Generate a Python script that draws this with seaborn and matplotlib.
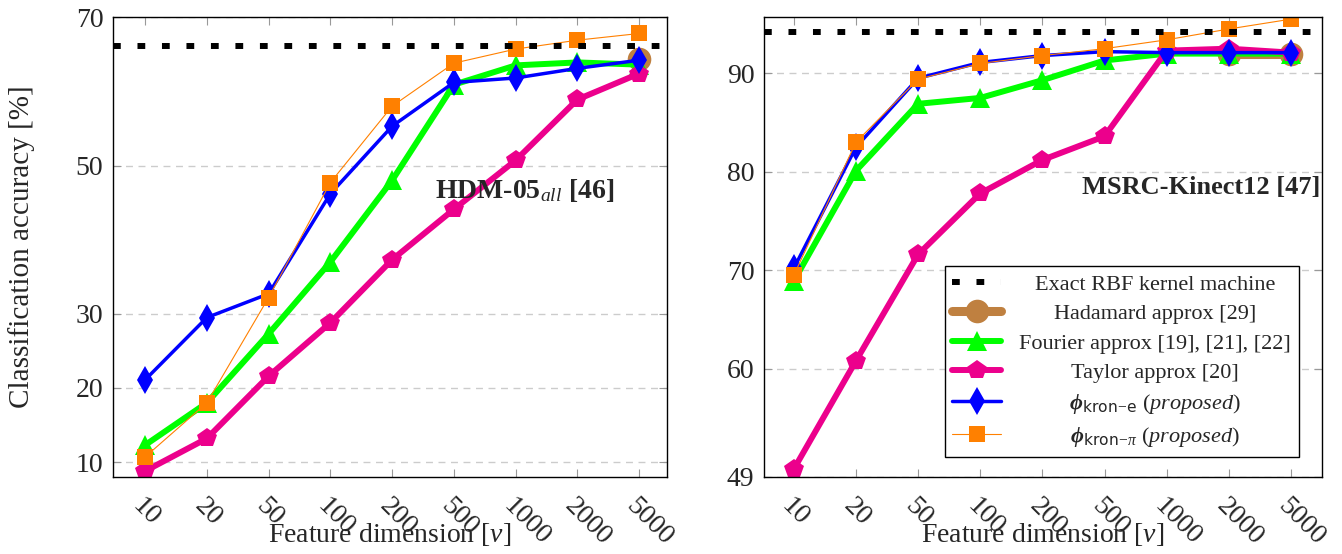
import numpy as np
import matplotlib.pyplot as plt
import seaborn as sns

dims = ['10', '20', '50', '100', '200', '500', '1000', '2000', '5000']

# HDM-05 (left panel)
hdm_exact = 66.1
hdm_hadamard = [64.3]  # only measured at 5000
hdm_fourier = [12.3, 18.0, 27.3, 37.0, 48.0, 60.9, 63.5, 63.9, 63.6]
hdm_taylor = [8.8, 13.2, 21.6, 28.8, 37.3, 44.1, 50.7, 58.9, 62.4]
hdm_kron_e = [21.1, 29.5, 32.7, 46.2, 55.3, 61.2, 61.8, 63.1, 64.2]
hdm_kron_pi = [10.7, 18.0, 32.2, 47.7, 58.0, 63.8, 65.7, 66.9, 67.8]

# MSRC-Kinect12 (right panel)
msrc_exact = 94.2
msrc_hadamard = [92.0, 92.0]  # measured at 2000 and 5000
msrc_fourier = [68.9, 80.1, 86.9, 87.5, 89.3, 91.3, 92.0, 92.0, 92.0]
msrc_taylor = [49.8, 60.8, 71.6, 77.8, 81.2, 83.6, 92.3, 92.5, 92.1]
msrc_kron_e = [70.2, 82.5, 89.5, 91.1, 91.8, 92.2, 92.1, 92.1, 92.1]
msrc_kron_pi = [69.5, 83.0, 89.4, 91.0, 91.8, 92.5, 93.4, 94.5, 95.5]

labels = ['Exact RBF kernel machine', 'Hadamard approx [29]',
          'Fourier approx [19], [21], [22]', 'Taylor approx [20]',
          r'$\boldsymbol{\phi}_{\mathsf{kron}\!-\!\mathsf{e}}$ $\mathit{(proposed)}$',
          r'$\boldsymbol{\phi}_{\mathsf{kron}\!-\!\pi}$ $\mathit{(proposed)}$']

sns.set_style('ticks')
plt.rcParams['font.family'] = ['Liberation Serif', 'DejaVu Serif']
plt.rcParams['mathtext.fontset'] = 'custom'
plt.rcParams['mathtext.rm'] = 'Liberation Serif'
plt.rcParams['mathtext.it'] = 'Liberation Serif:italic'
plt.rcParams['mathtext.bf'] = 'Liberation Serif:bold'
plt.rcParams['mathtext.bfit'] = 'Liberation Serif:italic:bold'
plt.rcParams['mathtext.sf'] = 'DejaVu Sans'

styles = [
    dict(color='#bf8040', marker='o', linewidth=6.5, markersize=17),
    dict(color='#00ff00', marker='^', linewidth=4.3, markersize=14),
    dict(color='#ec008c', marker='p', linewidth=4.3, markersize=15),
    dict(color='#0000ff', marker='d', linewidth=2.5, markersize=14),
    dict(color='#ff8000', marker='s', linewidth=0.8, markersize=12),
]

fig = plt.figure(figsize=(13.42, 5.54), dpi=100)
ax1 = fig.add_axes([0.0842, 0.139, 0.4128, 0.830])
ax2 = fig.add_axes([0.5693, 0.139, 0.4158, 0.830])

pos = np.arange(len(dims))


def panel(ax, exact, hadamard, series, ylim, yticks):
    ax.axhline(exact, color='black', linewidth=4.3, dashes=(1.3, 2.8),
               dash_capstyle='butt', label=labels[0], zorder=3)
    xs = [pos[-len(hadamard):]] + [pos] * 4
    ys = [hadamard] + series
    for x, y, st, lab in zip(xs, ys, styles, labels[1:]):
        sns.lineplot(x=x, y=y, ax=ax, estimator=None, label=lab,
                     markeredgewidth=0, **st)
    ax.set_xlim(-0.52, 8.45)
    ax.set_ylim(*ylim)
    ax.set_yticks(yticks)
    ax.set_xticks(pos)
    ax.set_xticklabels(dims, rotation=-45, ha='left', rotation_mode='anchor')
    ax.tick_params(direction='in', top=True, right=True, length=6,
                   color='#999999', labelsize=20, pad=7)
    ax.tick_params(axis='x', pad=12)
    ax.yaxis.grid(True, linestyle=(0, (5, 4)), color='#cccccc', linewidth=1)
    for s in ax.spines.values():
        s.set_color('black')
        s.set_linewidth(1)
    ax.set_xlabel('Feature dimension [$\\nu$]', fontsize=20)
    ax.xaxis.set_label_coords(0.5, -0.095)
    ax.set_ylabel('')
    if ax.get_legend() is not None:
        ax.get_legend().remove()


panel(ax1, hdm_exact, hdm_hadamard,
      [hdm_fourier, hdm_taylor, hdm_kron_e, hdm_kron_pi],
      (8, 70), [10, 20, 30, 50, 70])
panel(ax2, msrc_exact, msrc_hadamard,
      [msrc_fourier, msrc_taylor, msrc_kron_e, msrc_kron_pi],
      (49, 95.7), [49, 60, 70, 80, 90])
ax2.set_xlim(-0.48, 8.5)

ax1.set_ylabel('Classification accuracy [%]', fontsize=21)
ax1.yaxis.set_label_coords(-0.14, 0.5)

ax1.text(0.581, 0.624, r'HDM-05$_{\mathit{all}}$ [46]', transform=ax1.transAxes,
         fontsize=20, fontweight='bold', ha='left', va='center')
ax2.text(0.997, 0.630, 'MSRC-Kinect12 [47]', transform=ax2.transAxes,
         fontsize=19, fontweight='bold', ha='right', va='center')

handles, labs = ax2.get_legend_handles_labels()
leg = ax2.legend(handles, labs, loc='lower right', bbox_to_anchor=(0.978, 0.02),
                 fontsize=16, frameon=True, fancybox=False, edgecolor='black',
                 framealpha=1, handlelength=2.2, borderpad=0.35, labelspacing=0.4)
leg.get_frame().set_linewidth(1)

# centre the legend texts like the original
fig.canvas.draw()
rend = fig.canvas.get_renderer()
widths = [t.get_window_extent(rend).width for t in leg.get_texts()]
for t, w in zip(leg.get_texts(), widths):
    t.set_position(((max(widths) - w) / 2, 0))

fig.savefig('out.png', dpi=100)
